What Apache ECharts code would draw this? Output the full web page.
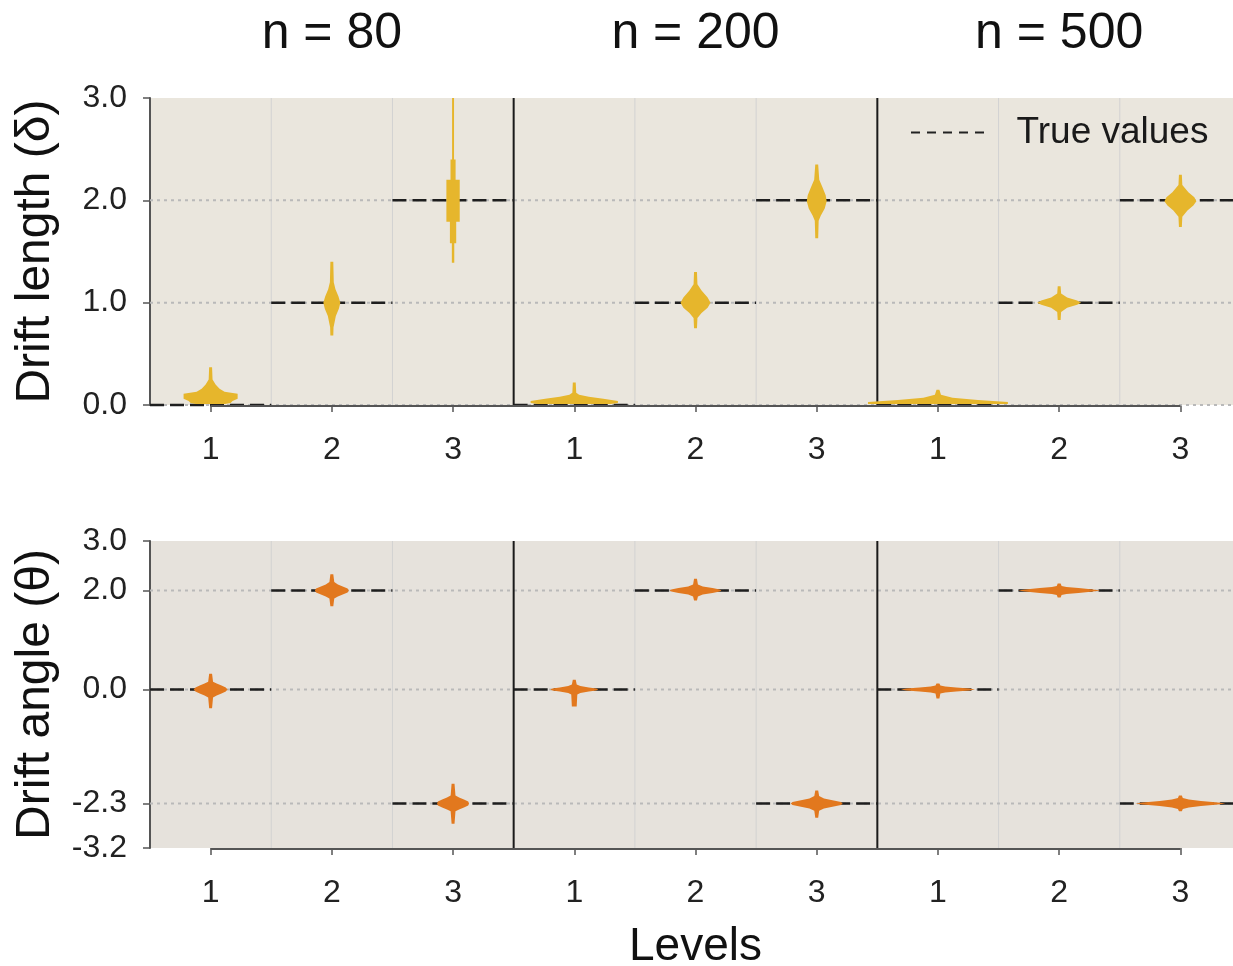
<!DOCTYPE html>
<html>
<head>
<meta charset="utf-8">
<title>Drift length and angle</title>
<script src="https://cdn.jsdelivr.net/npm/echarts@6.0.0/dist/echarts.min.js"></script>
<style>
html,body{margin:0;padding:0;background:#fff;overflow:hidden;}
/* the plot runs past the right edge of the picture, as in the original figure */
#main{width:1243px;height:966px;}
</style>
</head>
<body>
<div id="main"></div>
<script>
// sample sizes (columns) and levels inside each column
var groups = ['n = 80', 'n = 200', 'n = 500'];
var levels = ['1', '2', '3'];

// true parameter values per level
var lengthTrue = [0.0, 1.0, 2.0];
var angleTrue = [0.0, 2.0, -2.3];

// y tick values
var lengthTicks = [0.0, 1.0, 2.0, 3.0];
var angleTicks = [-3.2, -2.3, 0.0, 2.0, 3.0];

// violin outlines, top to bottom: [value, half width as share of one level slot]
// order: n=80 lvl 1..3, n=200 lvl 1..3, n=500 lvl 1..3
var lengthViolins = [
  [[0.37,.012],[0.25,.016],[0.20,.041],[0.16,.074],[0.13,.115],[0.11,.223],[0.06,.223],[0.04,.181],[0.02,.165],[0.01,.12]],
  [[1.40,.012],[1.20,.016],[1.13,.03],[1.06,.055],[1.00,.07],[0.94,.058],[0.87,.033],[0.80,.021],[0.76,.014],[0.68,.012]],
  [[3.0,.008],[2.40,.008],[2.40,.021],[2.20,.021],[2.20,.055],[1.79,.055],[1.79,.026],[1.58,.026],[1.58,.01],[1.39,.01]],
  [[0.22,.012],[0.12,.016],[0.10,.04],[0.08,.12],[0.06,.24],[0.04,.36],[0.02,.36],[0.01,.3]],
  [[1.30,.012],[1.18,.016],[1.12,.05],[1.05,.10],[1.00,.124],[0.95,.10],[0.90,.05],[0.85,.016],[0.75,.012]],
  [[2.35,.012],[2.20,.021],[2.12,.05],[2.05,.074],[1.99,.082],[1.92,.066],[1.85,.033],[1.80,.016],[1.63,.012]],
  [[0.15,.012],[0.10,.025],[0.07,.12],[0.05,.33],[0.03,.577],[0.01,.577]],
  [[1.16,.012],[1.09,.016],[1.05,.066],[1.02,.148],[1.00,.181],[0.98,.148],[0.95,.066],[0.91,.016],[0.83,.012]],
  [[2.25,.012],[2.15,.016],[2.08,.066],[2.03,.115],[1.99,.132],[1.95,.107],[1.90,.058],[1.84,.016],[1.74,.012]]
];
var angleViolins = [
  [[0.32,.012],[0.16,.02],[0.12,.05],[0.08,.09],[0.04,.125],[0.00,.14],[-0.04,.125],[-0.08,.09],[-0.12,.05],[-0.16,.02],[-0.38,.012]],
  [[2.33,.012],[2.17,.02],[2.12,.05],[2.08,.09],[2.04,.13],[2.00,.14],[1.96,.13],[1.92,.09],[1.88,.05],[1.84,.02],[1.68,.012]],
  [[-1.90,.012],[-2.14,.02],[-2.18,.05],[-2.22,.09],[-2.26,.125],[-2.30,.132],[-2.34,.125],[-2.38,.09],[-2.42,.05],[-2.46,.02],[-2.71,.012]],
  [[0.20,.012],[0.10,.02],[0.07,.05],[0.04,.12],[0.02,.18],[0.00,.198],[-0.02,.18],[-0.04,.12],[-0.07,.05],[-0.10,.025],[-0.34,.02]],
  [[2.24,.012],[2.12,.02],[2.08,.06],[2.05,.14],[2.02,.2],[2.00,.214],[1.98,.2],[1.95,.14],[1.92,.06],[1.88,.02],[1.80,.012]],
  [[-2.04,.012],[-2.15,.02],[-2.20,.06],[-2.24,.14],[-2.27,.2],[-2.30,.214],[-2.33,.2],[-2.36,.14],[-2.40,.06],[-2.45,.02],[-2.59,.012]],
  [[0.12,.012],[0.08,.02],[0.06,.06],[0.04,.15],[0.02,.26],[0.00,.305],[-0.02,.26],[-0.04,.15],[-0.06,.06],[-0.08,.02],[-0.18,.012]],
  [[2.14,.012],[2.09,.02],[2.07,.06],[2.05,.16],[2.02,.28],[2.00,.338],[1.98,.28],[1.95,.16],[1.93,.06],[1.91,.02],[1.86,.012]],
  [[-2.14,.012],[-2.19,.02],[-2.22,.07],[-2.25,.17],[-2.28,.31],[-2.30,.371],[-2.32,.31],[-2.35,.17],[-2.38,.07],[-2.41,.02],[-2.46,.012]]
];

// one slot per (group, level)
var slots = [];
groups.forEach(function(g){
  levels.forEach(function(l){ slots.push(g + '|' + l); });
});

var FONT = 'Liberation Sans';

function xCat(gridIndex){
  return {
    type: 'category', gridIndex: gridIndex, data: slots,
    boundaryGap: true,
    axisLine: {show: false, onZero: false},
    axisTick: {show: true, alignWithLabel: true, length: 7, lineStyle: {color: '#555', width: 1.5}},
    axisLabel: {fontSize: 32, color: '#222', margin: 29, fontFamily: FONT,
      formatter: function(v){ return v.split('|')[1]; }},
    splitLine: {show: false}
  };
}

function yVal(gridIndex, min, max, ticks, name){
  return {
    type: 'value', gridIndex: gridIndex, min: min, max: max,
    name: name, nameLocation: 'middle', nameGap: 90,
    nameTextStyle: {fontSize: 48, color: '#111', fontFamily: FONT},
    axisLine: {show: true, lineStyle: {color: '#555', width: 2}},
    axisTick: {show: true, length: 7, customValues: ticks, lineStyle: {color: '#555', width: 1.5}},
    axisLabel: {fontSize: 32, color: '#222', margin: 23, fontFamily: FONT, customValues: ticks,
      formatter: function(v){ return v.toFixed(1); }},
    splitLine: {show: false}
  };
}

// vertical separators between level slots, darker between sample sizes
function separatorSeries(ax){
  var data = slots.slice(0, -1).map(function(s, i){ return [i]; });
  return {
    type: 'custom', xAxisIndex: ax, yAxisIndex: ax, z: 3, silent: true,
    data: data,
    renderItem: function(params, api){
      var i = api.value(0);
      var band = api.size([1, 0])[0];
      var x = api.coord([i, 0])[0] + band / 2;
      var cs = params.coordSys;
      var major = (i % levels.length) === levels.length - 1;
      return {type: 'line', shape: {x1: x, y1: cs.y, x2: x, y2: cs.y + cs.height},
        style: {stroke: major ? '#1a1a1a' : '#d2d2d2', lineWidth: major ? 2 : 1},
        z2: major ? 5 : 1};
    }
  };
}

// dotted guide lines at each true value, whole width
function guideSeries(ax, vals){
  return {
    type: 'custom', xAxisIndex: ax, yAxisIndex: ax, z: 3, silent: true,
    data: vals.map(function(v){ return [0, v]; }),
    renderItem: function(params, api){
      var y = api.coord([0, api.value(1)])[1];
      var cs = params.coordSys;
      return {type: 'line', shape: {x1: cs.x, y1: y, x2: cs.x + cs.width, y2: y},
        style: {stroke: '#b9b9b9', lineWidth: 2, lineDash: [3, 4]}, z2: 2};
    }
  };
}

// dashed true-value segment across each level slot
function trueSeries(ax, vals){
  var data = slots.map(function(s, i){ return [i, vals[i % levels.length]]; });
  return {
    type: 'custom', name: 'True values', xAxisIndex: ax, yAxisIndex: ax, z: 4, silent: true,
    itemStyle: {color: '#222'},
    data: data,
    renderItem: function(params, api){
      var c = api.coord([api.value(0), api.value(1)]);
      var band = api.size([1, 0])[0];
      return {type: 'line', shape: {x1: c[0] - band / 2, y1: c[1], x2: c[0] + band / 2, y2: c[1]},
        style: {stroke: '#1e1e1e', lineWidth: 2.5, lineDash: [14, 6]}};
    }
  };
}

// x axis line from first to last level tick
function baseSeries(ax, ymin){
  return {
    type: 'custom', xAxisIndex: ax, yAxisIndex: ax, z: 4, silent: true,
    data: [[0, slots.length - 1, ymin]],
    renderItem: function(params, api){
      var a = api.coord([api.value(0), api.value(2)]);
      var b = api.coord([api.value(1), api.value(2)]);
      return {type: 'line', shape: {x1: a[0], y1: a[1] + 1, x2: b[0], y2: b[1] + 1},
        style: {stroke: '#555', lineWidth: 2}};
    }
  };
}

function violinSeries(ax, shapes, color){
  return {
    type: 'custom', xAxisIndex: ax, yAxisIndex: ax, z: 6, clip: true,
    data: shapes.map(function(s, i){ return [i, s[0][0]]; }),
    renderItem: function(params, api){
      var prof = shapes[params.dataIndex];
      var cat = api.value(0);
      var band = api.size([1, 0])[0];
      var right = [], left = [];
      prof.forEach(function(p){
        var c = api.coord([cat, p[0]]);
        right.push([c[0] + p[1] * band, c[1]]);
        left.unshift([c[0] - p[1] * band, c[1]]);
      });
      return {type: 'polygon', shape: {points: right.concat(left)}, style: {fill: color}};
    }
  };
}

var chart = echarts.init(document.getElementById('main'));
var option = {
  animation: false,
  backgroundColor: '#ffffff',
  textStyle: {fontFamily: FONT},
  legend: {
    data: [{name: 'True values',
      icon: 'path://M0,0h9v2h-9zM16,0h9v2h-9zM32,0h9v2h-9zM48,0h9v2h-9zM64,0h9v2h-9z'}],
    left: 906, top: 109, itemWidth: 76, itemHeight: 2,
    itemStyle: {color: '#222'},
    selectedMode: false,
    textStyle: {fontSize: 37, color: '#1a1a1a', fontFamily: FONT, padding: [0, 0, 0, 26]}
  },
  grid: [
    {left: 150, top: 98, width: 1091, height: 307, show: true, backgroundColor: '#eae6dd',
      borderWidth: 0, outerBoundsMode: 'none'},
    {left: 150, top: 541, width: 1091, height: 307, show: true, backgroundColor: '#e6e2dc',
      borderWidth: 0, outerBoundsMode: 'none'}
  ],
  xAxis: [
    xCat(0),
    Object.assign(xCat(1), {name: 'Levels', nameLocation: 'middle', nameGap: 76,
      nameTextStyle: {fontSize: 46, color: '#111', fontFamily: FONT}}),
    {type: 'category', gridIndex: 0, position: 'top', data: groups,
      axisLine: {show: false}, axisTick: {show: false}, splitLine: {show: false},
      axisLabel: {fontSize: 50, color: '#111', margin: 39, fontFamily: FONT}}
  ],
  yAxis: [
    yVal(0, 0, 3, lengthTicks, 'Drift length (\u03b4)'),
    yVal(1, -3.2, 3, angleTicks, 'Drift angle (\u03b8)')
  ],
  series: [
    separatorSeries(0), guideSeries(0, lengthTrue), trueSeries(0, lengthTrue), baseSeries(0, 0),
    violinSeries(0, lengthViolins, '#e6b62c'),
    separatorSeries(1), guideSeries(1, angleTrue), trueSeries(1, angleTrue), baseSeries(1, -3.2),
    violinSeries(1, angleViolins, '#e2781e')
  ]
};
chart.setOption(option);
</script>
</body>
</html>
